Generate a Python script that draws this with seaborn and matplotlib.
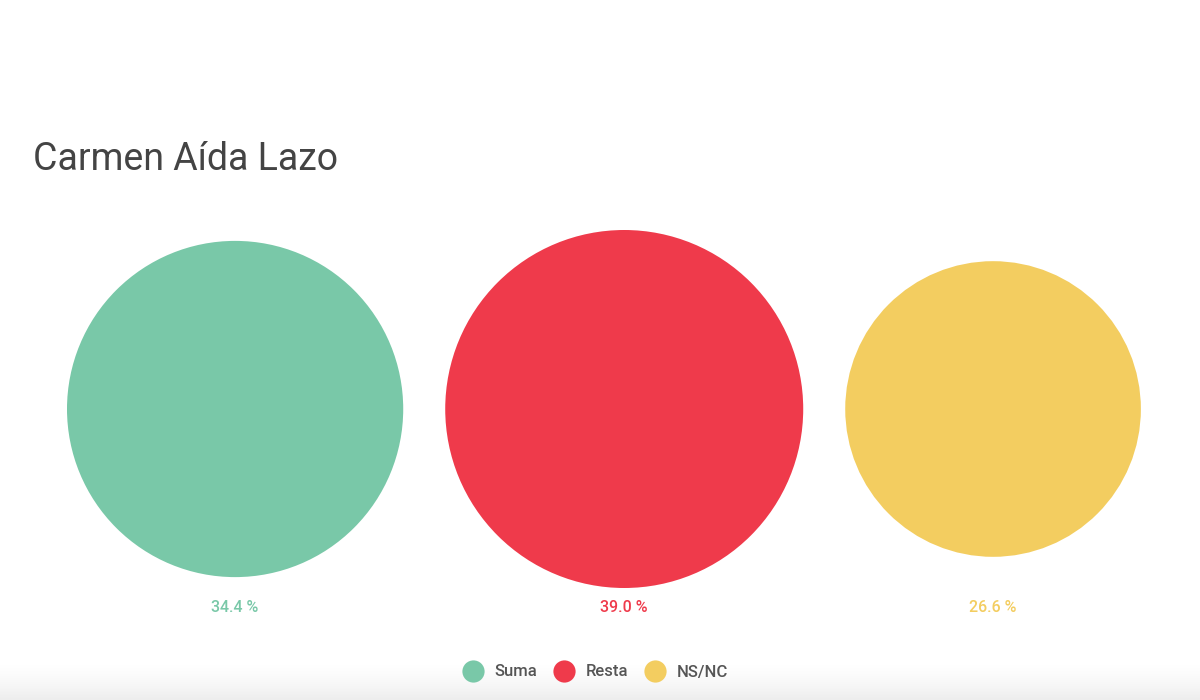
import numpy as np
import seaborn as sns
import matplotlib.pyplot as plt
from matplotlib.lines import Line2D

# Data
categories = ['Suma', 'Resta', 'NS/NC']
values = [34.4, 39.0, 26.6]
labels = ['34.4 %', '39.0 %', '26.6 %']
colors = ['#79C8A8', '#EF3A4B', '#F3CD60']

sns.set_theme(style='white')
plt.rcParams['font.family'] = ['Roboto', 'DejaVu Sans']

W, H, DPI = 1200, 700, 100
fig = plt.figure(figsize=(W / DPI, H / DPI), dpi=DPI)

# soft shadow along the bottom edge
shadow = fig.add_axes([0, 0, 1, 42 / H])
t = np.linspace(1, 0, 60)
grad = np.zeros((60, 1, 4))
grad[:, 0, 3] = 0.075 * t ** 1.6
shadow.imshow(grad, aspect='auto', extent=[0, 1, 0, 1], origin='lower',
              interpolation='bilinear')
shadow.axis('off')

ax = fig.add_axes([0, 0, 1, 1])
ax.patch.set_alpha(0)
ax.set_xlim(0, W)
ax.set_ylim(H, 0)
ax.axis('off')

# circle area proportional to value, packed left to right with equal gaps
vals = np.array(values)
radii = 179 * np.sqrt(vals / vals.max())
gap = 42
left = 67
centers = left + np.cumsum(2 * radii + gap) - radii - gap
cy = 409

sizes = (2 * radii * 72 / DPI) ** 2
sns.scatterplot(x=centers, y=np.full(len(vals), cy), s=sizes, c=colors,
                linewidth=0, ax=ax, legend=False)

label_y = cy + radii.max() + 19
for x, lab, col in zip(centers, labels, colors):
    ax.text(x, label_y, lab, color=col, fontsize=11.5, fontweight='medium',
            ha='center', va='center')

ax.text(33, 160, 'Carmen Aída Lazo', color='#444444', fontsize=27,
        ha='left', va='center')

handles = [Line2D([], [], marker='o', linestyle='', markersize=16,
                  markerfacecolor=c, markeredgewidth=0) for c in colors]
fig.legend(handles, categories, loc='center',
           bbox_to_anchor=(0.5 - 8 / W, 1 - 672 / H),
           ncol=3, frameon=False, labelcolor='#555555',
           prop={'size': 12, 'weight': 'medium'},
           handletextpad=0.3, columnspacing=0.6)

fig.savefig('out.png', dpi=DPI, facecolor='white')
